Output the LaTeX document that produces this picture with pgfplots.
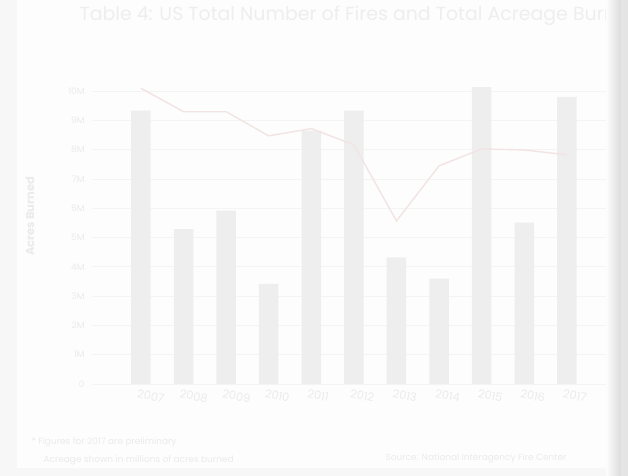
\documentclass[border=0pt]{standalone}
\usepackage{pgfplots}
\pgfplotsset{compat=1.18}
\usepackage{fontspec}
\setmainfont{Poppins}
\usetikzlibrary{shadings}
\definecolor{bgout}{HTML}{F7F7F7}
\definecolor{card}{HTML}{FDFDFD}
\definecolor{txt}{HTML}{EBEBEB}
\definecolor{ttl}{HTML}{EEEEEE}
\definecolor{barc}{HTML}{EEEEEE}
\definecolor{lnc}{HTML}{F3E4E4}
\definecolor{gridc}{HTML}{F4F4F4}
\begin{document}
\begin{tikzpicture}[x=1bp,y=1bp]
\path[use as bounding box] (0,0) rectangle (628,476);
\fill[bgout] (0,0) rectangle (628,476);
\fill[card] (17,8) rectangle (614,476);
% title
\node[anchor=west, text=ttl, font=\fontsize{19}{21}\selectfont] at (76,460) {Table 4: US Total Number of Fires and Total Acreage Burned};
\begin{axis}[
  at={(92bp,92bp)}, anchor=south west,
  scale only axis, width=514bp, height=307.6bp,
  xmin=-1.15, xmax=10.92, ymin=0, ymax=10.5,
  axis x line*=bottom, axis y line*=left,
  axis line style={draw=none},
  clip=false,
  ytick={0,1,...,10},
  ymajorgrids, xmajorgrids=false, grid style={draw=gridc, line width=0.8pt},
  xtick style={draw=none}, ytick style={draw=none},
  yticklabels={0,1M,2M,3M,4M,5M,6M,7M,8M,9M,10M},
  yticklabel style={text=txt, font=\fontsize{9}{10}\selectfont, xshift=-4bp},
  /pgf/number format/assume math mode=true,
  xtick={0,...,10},
  xticklabels={2007,2008,2009,2010,2011,2012,2013,2014,2015,2016,2017},
  xticklabel style={text=txt, font=\fontsize{11.5}{13}\selectfont, rotate=-12, anchor=north west, xshift=-5bp, yshift=-2bp},
  major tick length=0pt,
  ylabel={Acres Burned},
  every axis y label/.style={at={(rel axis cs:0,0.545)}, xshift=-62bp, rotate=90, anchor=center, text=txt, font=\fontsize{11.5}{13}\bfseries},
]
\addplot[ybar, bar width=19.5bp, fill=barc, draw=none] coordinates {
(0,9.33) (1,5.29) (2,5.92) (3,3.42) (4,8.65) (5,9.33) (6,4.32) (7,3.60) (8,10.13) (9,5.51) (10,9.80)};
\end{axis}
\begin{axis}[
  at={(92bp,92bp)}, anchor=south west,
  scale only axis, width=514bp, height=307.6bp,
  xmin=-1.15, xmax=10.92, ymin=0, ymax=89.25,
  axis lines=none, clip=false,
]
\addplot[lnc, line width=1.4pt, mark=none] coordinates {
(0,85.8) (1,79.0) (2,79.0) (3,72.0) (4,74.1) (5,69.4) (6,47.3) (7,63.3) (8,68.2) (9,67.9) (10,66.5)};
\end{axis}
\shade[left color=card, right color=black!14] (606,0) rectangle (621,476);
\fill[black!10] (621,0) rectangle (628,476);
% footer
\node[anchor=west, text=txt, font=\fontsize{9}{11}\selectfont] at (28,34) {* Figures for 2017 are preliminary};
\node[anchor=west, text=txt, font=\fontsize{9}{11}\selectfont] at (40,16) {Acreage shown in millions of acres burned};
\node[anchor=west, text=txt, font=\fontsize{9}{11}\selectfont] at (382,18) {Source: National Interagency Fire Center};
\end{tikzpicture}
\end{document}
